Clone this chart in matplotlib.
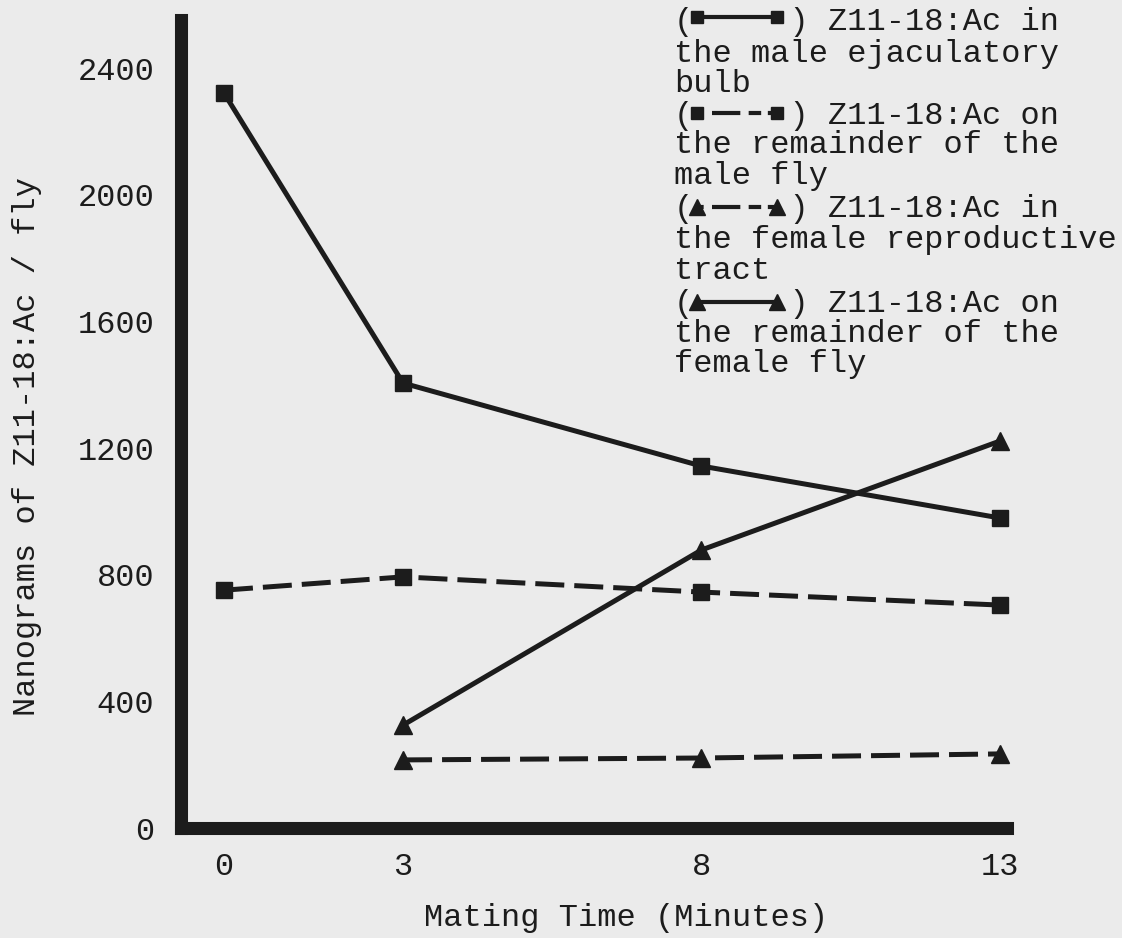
import matplotlib
matplotlib.use("Agg")
import matplotlib.pyplot as plt
from matplotlib.lines import Line2D

# ---- data ----
minutes = [0, 3, 8, 13]
minutes_female = [3, 8, 13]
male_bulb = [2321, 1405, 1143, 979]
male_remainder = [751, 793, 745, 704]
female_tract = [215, 221, 234]
female_remainder = [325, 878, 1222]
yticks = [0, 400, 800, 1200, 1600, 2000, 2400]
xticks = [0, 3, 8, 13]
xlabel = "Mating Time (Minutes)"
ylabel = "Nanograms of Z11-18:Ac / fly"
legend_lines = [
    "(     ) Z11-18:Ac in",
    "the male ejaculatory",
    "bulb",
    "(     ) Z11-18:Ac on",
    "the remainder of the",
    "male fly",
    "(     ) Z11-18:Ac in",
    "the female reproductive",
    "tract",
    "(     ) Z11-18:Ac on",
    "the remainder of the",
    "female fly",
]

W, H = 1122, 938
BG = "#ebebeb"
INK = "#1c1c1c"
FONT = "Liberation Mono"
FS = 23.0

fig = plt.figure(figsize=(W / 100, H / 100), dpi=100, facecolor=BG)
ax = fig.add_axes([181 / W, 1 - 828 / H, (1006.5 - 181) / W, (828 - 20.5) / H])
ax.set_facecolor(BG)

lw = 3.6
dash = (0, (5.8, 2.0))
ax.plot(minutes, male_bulb, color=INK, lw=lw, marker="s", ms=11, clip_on=False)
ax.plot(minutes, male_remainder, color=INK, lw=lw, ls=dash, marker="s", ms=11, clip_on=False)
ax.plot(minutes_female, female_remainder, color=INK, lw=lw, marker="^", ms=13, clip_on=False)
ax.plot(minutes_female, female_tract, color=INK, lw=lw, ls=dash, marker="^", ms=13, clip_on=False)

ax.set_xlim(-0.72, 13.11)
ax.set_ylim(0, 2550)
ax.set_xticks(xticks)
ax.set_yticks(yticks)
ax.set_xticklabels([str(v) for v in xticks], fontfamily=FONT, fontsize=FS, color=INK)
ax.set_yticklabels([str(v) for v in yticks], fontfamily=FONT, fontsize=FS, color=INK)
ax.tick_params(axis="both", length=0)
ax.tick_params(axis="y", pad=19)
ax.tick_params(axis="x", pad=17)

for s in ["top", "right"]:
    ax.spines[s].set_visible(False)
for s in ["left", "bottom"]:
    ax.spines[s].set_linewidth(9.4)
    ax.spines[s].set_color(INK)
    ax.spines[s].set_capstyle("projecting")

# axis labels
fig.text(626 / W, 1 - 918 / H, xlabel, ha="center", va="center",
         fontfamily=FONT, fontsize=FS, color=INK)
fig.text(27 / W, 1 - 446 / H, ylabel, ha="center", va="center", rotation=90,
         fontfamily=FONT, fontsize=FS, color=INK)

# legend text
baselines = [30, 62, 92, 124, 153, 184, 217, 248, 279, 312, 342, 372]
for txt, b in zip(legend_lines, baselines):
    fig.text(674 / W, 1 - b / H, txt, ha="left", va="baseline",
             fontfamily=FONT, fontsize=FS, color=INK)

# legend icons
def icon(yc, marker, dashed, ms):
    x0, x1 = 697 / W, 777 / W
    y = 1 - yc / H
    if dashed:
        ls = (0, (1.6, 2.0, 6.8, 2.0, 3.0))
    else:
        ls = "-"
    fig.add_artist(Line2D([x0, x1], [y, y], transform=fig.transFigure, color=INK,
                          lw=3.0, ls=ls, marker=marker, ms=ms, solid_capstyle="butt"))

icon(17, "s", False, 9)
icon(113, "s", True, 9)
icon(207, "^", True, 11)
icon(302, "^", False, 11)

fig.savefig("out.png", dpi=100, facecolor=BG)
